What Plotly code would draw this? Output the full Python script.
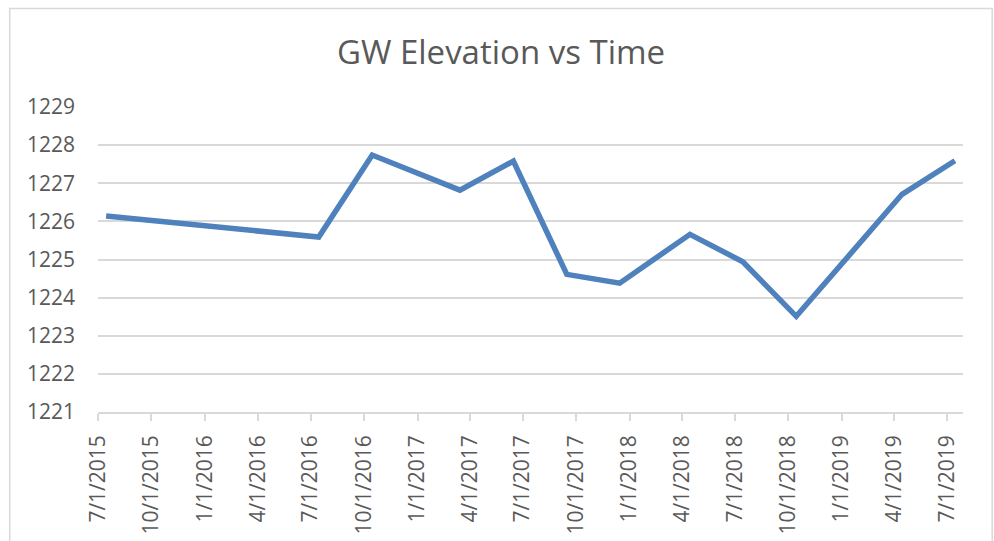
import plotly.graph_objects as go

# ---- data ----
dates = ["2015-07-15", "2016-07-15", "2016-10-15", "2017-03-15", "2017-06-15",
         "2017-09-15", "2017-12-15", "2018-04-15", "2018-07-15", "2018-10-15",
         "2019-04-15", "2019-07-15"]
elevation = [1226.14, 1225.59, 1227.74, 1226.82, 1227.58,
             1224.61, 1224.38, 1225.66, 1224.94, 1223.51,
             1226.71, 1227.59]
tick_dates = ["2015-07-01", "2015-10-01", "2016-01-01", "2016-04-01", "2016-07-01",
              "2016-10-01", "2017-01-01", "2017-04-01", "2017-07-01", "2017-10-01",
              "2018-01-01", "2018-04-01", "2018-07-01", "2018-10-01", "2019-01-01",
              "2019-04-01", "2019-07-01"]
tick_labels = ["7/1/2015", "10/1/2015", "1/1/2016", "4/1/2016", "7/1/2016",
               "10/1/2016", "1/1/2017", "4/1/2017", "7/1/2017", "10/1/2017",
               "1/1/2018", "4/1/2018", "7/1/2018", "10/1/2018", "1/1/2019",
               "4/1/2019", "7/1/2019"]
y_ticks = [1221, 1222, 1223, 1224, 1225, 1226, 1227, 1228, 1229]
title_text = "GW Elevation vs Time"

FONT = "Open Sans, Lato, sans-serif"
TXT = "#595959"
GRID = "#d9d9d9"

fig = go.Figure()
fig.add_trace(go.Scatter(
    x=dates, y=elevation, mode="lines",
    line=dict(color="#4F81BD", width=5.5),
    hoverinfo="x+y", showlegend=False,
))

W, H = 994, 541
L, R, T, B = 98.3, 963.3, 107.0, 411.7
pw, ph = R - L, B - T

fig.update_layout(
    width=W, height=H,
    margin=dict(l=L, r=W - R, t=T, b=H - B, pad=0, autoexpand=False),
    paper_bgcolor="white", plot_bgcolor="white",
    font=dict(family=FONT, color=TXT),
    title=dict(text=title_text, x=501 / W, xanchor="center",
               y=1 - 52 / H, yanchor="middle", yref="container",
               font=dict(size=33, color=TXT, family=FONT)),
    xaxis=dict(
        type="date", range=["2015-07-01", "2019-07-29"],
        tickmode="array", tickvals=tick_dates, ticktext=tick_labels,
        tickangle=-90, tickfont=dict(size=21, color=TXT),
        showgrid=False, zeroline=False, automargin=False,
        showline=True, linecolor=GRID, linewidth=1.5,
        ticks="outside", ticklen=7, tickcolor=GRID, tickwidth=1.5,
        ticklabelstandoff=6,
    ),
    yaxis=dict(
        range=[1221, 1229], tickmode="array", tickvals=y_ticks,
        ticktext=[str(v) for v in y_ticks],
        tickfont=dict(size=21, color=TXT), automargin=False,
        showgrid=True, gridcolor=GRID, gridwidth=1.5,
        zeroline=False, showline=False, ticks="",
        ticklabelstandoff=22,
    ),
    shapes=[dict(
        type="rect", xref="paper", yref="paper",
        x0=(10 - L) / pw, x1=(992.5 - L) / pw,
        y0=(B - 560) / ph, y1=(B - 8.5) / ph,
        line=dict(color=GRID, width=1.5), fillcolor="rgba(0,0,0,0)", layer="below",
    )],
)

fig.write_html(
    "out.html",
    config={"displayModeBar": False},
    post_script="document.body.style.margin='0';document.body.style.overflow='hidden';",
)
